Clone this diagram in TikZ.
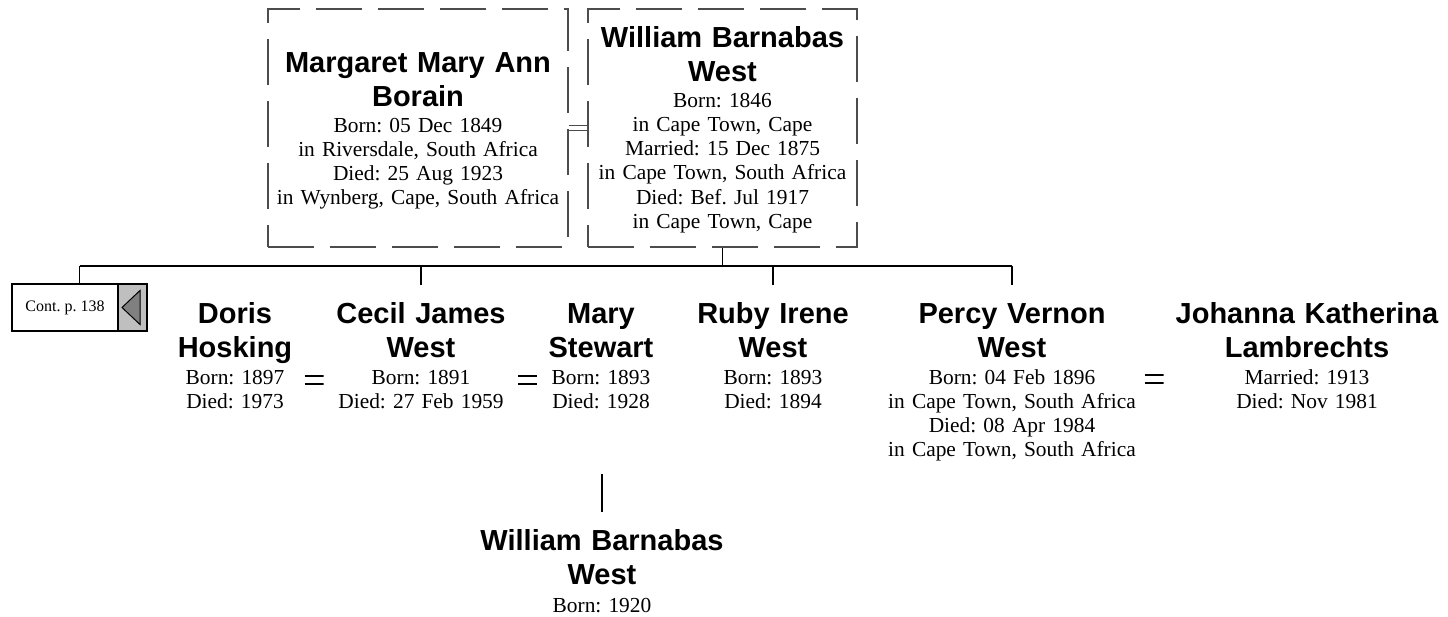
\documentclass[tikz,border=0pt]{standalone}
\usepackage{fontspec}
\setmainfont{Liberation Serif}
\newfontfamily\namefont{Liberation Sans}
\frenchspacing
\begin{document}
\begin{tikzpicture}[x=1pt,y=-1pt,
  namestyle/.style={font=\namefont\bfseries\fontsize{29}{34}\selectfont, align=center, text width=400pt, inner sep=0pt, anchor=base},
  detstyle/.style={font=\frenchspacing\fontsize{21.4}{24.3}\selectfont, align=center, text width=400pt, inner sep=0pt, anchor=base},
  famebox/.style={draw=black!70, line width=1.2pt, dash pattern=on 46pt off 16pt, minimum height=238pt, inner sep=0pt},
  conn/.style={line width=1.6pt, black},
  marry/.style={double=white, double distance=4pt, line width=1pt, draw=black!70},
  eqsign/.style={minimum width=19pt, minimum height=12pt, inner sep=0pt,
    path picture={
      \draw[line width=2pt] ([yshift=4pt]path picture bounding box.west) -- ([yshift=4pt]path picture bounding box.east);
      \draw[line width=2pt] ([yshift=-4pt]path picture bounding box.west) -- ([yshift=-4pt]path picture bounding box.east);
    }},
  contbox/.style={draw, line width=1.5pt, minimum width=106pt, minimum height=47pt, inner sep=0pt, font=\frenchspacing\fontsize{16}{18}\selectfont},
  contarrow/.style={draw, line width=1.5pt, fill=gray!50, minimum width=29pt, minimum height=47pt, inner sep=0pt,
    path picture={
      \filldraw[fill=gray, draw=black, line width=1pt] ([xshift=4pt]path picture bounding box.west) -- ([xshift=-7pt,yshift=17pt]path picture bounding box.east) -- ([xshift=-7pt,yshift=-17pt]path picture bounding box.east) -- cycle;
    }}
]
\useasboundingbox (0,0) rectangle (1448,616);

% parents
\node[famebox, minimum width=300pt] (lbox) at (418,128) {};
\node[famebox, minimum width=269pt] (rbox) at (722.5,128) {};
\node[namestyle] (margaret) at (418,72) {Margaret Mary Ann\\Borain};
\node[detstyle] (margaret-d) at (418,132) {Born: 05 Dec 1849\\in Riversdale, South Africa\\Died: 25 Aug 1923\\in Wynberg, Cape, South Africa};
\node[namestyle] (william) at (722.5,47) {William Barnabas\\West};
\node[detstyle] (william-d) at (722.5,107) {Born: 1846\\in Cape Town, Cape\\Married: 15 Dec 1875\\in Cape Town, South Africa\\Died: Bef. Jul 1917\\in Cape Town, Cape};
\draw[marry] (lbox.east) -- (rbox.west);

% continuation
\node[contbox] (cont) at (65,307.5) {Cont. p. 138};
\node[contarrow] (contarr) at (132.5,307.5) {};

% children
\node[namestyle] (doris) at (235,323) {Doris\\Hosking};
\node[detstyle] (doris-d) at (235,384) {Born: 1897\\Died: 1973};
\node[namestyle] (cecil) at (421,323) {Cecil James\\West};
\node[detstyle] (cecil-d) at (421,384) {Born: 1891\\Died: 27 Feb 1959};
\node[namestyle] (mary) at (601,323) {Mary\\Stewart};
\node[detstyle] (mary-d) at (601,384) {Born: 1893\\Died: 1928};
\node[namestyle] (ruby) at (773,323) {Ruby Irene\\West};
\node[detstyle] (ruby-d) at (773,384) {Born: 1893\\Died: 1894};
\node[namestyle] (percy) at (1012,323) {Percy Vernon\\West};
\node[detstyle] (percy-d) at (1012,384) {Born: 04 Feb 1896\\in Cape Town, South Africa\\Died: 08 Apr 1984\\in Cape Town, South Africa};
\node[namestyle] (johanna) at (1307,323) {Johanna Katherina\\Lambrechts};
\node[detstyle] (johanna-d) at (1307,384) {Married: 1913\\Died: Nov 1981};

\node[eqsign] (eq1) at (314,379.5) {};
\node[eqsign] (eq2) at (527.5,379.5) {};
\node[eqsign] (eq3) at (1154,379) {};

% grandchild
\node[namestyle] (wbw) at (602,550) {William Barnabas\\West};
\node[detstyle] (wbw-d) at (602,612) {Born: 1920};

% connectors
\coordinate (busL) at (79.5,266);
\coordinate (busR) at (1012,266);
\coordinate (cont-in) at (79.5,284);
\coordinate (cecil-in) at (421,285);
\coordinate (ruby-in) at (773,285);
\coordinate (percy-in) at (1012,285);
\coordinate (wbw-up) at (602,474);
\coordinate (wbw-in) at (602,512);

\draw[conn] (busL) -- (busR);
\draw[conn] (rbox.south) -- (rbox.south |- busL);
\draw[conn] (cont-in |- busL) -- (cont-in);
\draw[conn] (cecil-in |- busL) -- (cecil-in);
\draw[conn] (ruby-in |- busL) -- (ruby-in);
\draw[conn] (busR) -- (percy-in);
\draw[conn] (wbw-up) -- (wbw-in);
\end{tikzpicture}
\end{document}
